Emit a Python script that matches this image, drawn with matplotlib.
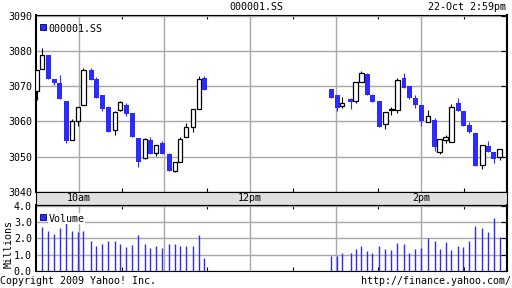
"""Intraday candlestick chart of 000001.SS with volume, Yahoo style."""

import numpy as np
import matplotlib.pyplot as plt
from matplotlib.patches import Rectangle

# x positions: minutes after 9:30
minutes = [0.8, 4.4, 8.6, 12.8, 16.6, 21.3, 25.5, 29.7, 33.3, 38.8,
           42.4, 46.5, 50.7, 55.6, 59.1, 63.3, 67.5, 71.8, 76.7, 80.2,
           84.4, 88.6, 93.5, 97.7, 101.2, 105.4, 110.1, 114.5, 118.0,
           207.1, 211.3, 214.8, 220.5, 224.0, 228.2, 232.4, 235.9, 240.8, 245.0,
           249.2, 253.4, 258.1, 261.8, 266.0, 270.2, 275.1, 279.4, 282.9, 287.1,
           291.3, 296.2, 299.7, 303.9, 308.1, 313.0, 317.2, 320.8, 325.0]

opens = [3068.5, 3075.0, 3078.8, 3072.1, 3071.0, 3065.7, 3054.8, 3060.2, 3064.7, 3074.5,
         3072.0, 3067.4, 3064.0, 3057.4, 3063.3, 3064.6, 3062.3, 3055.2, 3049.7, 3054.6,
         3050.9, 3053.7, 3050.6, 3045.9, 3048.3, 3055.4, 3058.5, 3063.6, 3072.2,
         3069.1, 3067.4, 3064.4, 3066.3, 3065.8, 3071.3, 3073.4, 3067.5, 3065.7, 3059.1,
         3063.1, 3063.3, 3072.2, 3070.0, 3066.5, 3064.6, 3059.9, 3060.3, 3051.4, 3054.6,
         3054.0, 3065.1, 3062.9, 3058.9, 3056.8, 3047.7, 3053.1, 3051.4, 3050.0]
highs = [3074.6, 3080.7, 3078.8, 3072.1, 3073.1, 3065.7, 3060.6, 3064.2, 3075.1, 3075.1,
         3072.6, 3067.4, 3064.4, 3062.9, 3065.7, 3065.3, 3062.3, 3055.2, 3055.2, 3055.5,
         3053.4, 3054.4, 3051.1, 3048.3, 3055.4, 3059.4, 3063.4, 3072.8, 3072.8,
         3069.1, 3067.4, 3067.0, 3066.7, 3071.3, 3074.2, 3073.7, 3067.8, 3065.7, 3062.6,
         3064.1, 3072.2, 3073.7, 3070.0, 3067.6, 3064.6, 3063.2, 3061.0, 3055.1, 3056.1,
         3064.8, 3066.5, 3062.9, 3059.7, 3056.8, 3053.4, 3054.4, 3051.4, 3052.0]
lows = [3066.0, 3075.0, 3072.1, 3070.3, 3066.3, 3053.9, 3054.8, 3058.7, 3064.7, 3071.8,
        3066.7, 3063.0, 3057.0, 3056.2, 3062.8, 3061.6, 3055.4, 3047.1, 3049.4, 3050.7,
        3050.2, 3050.8, 3045.8, 3045.5, 3048.3, 3055.4, 3057.1, 3063.6, 3068.9,
        3066.7, 3063.0, 3063.8, 3063.4, 3065.2, 3071.3, 3067.5, 3065.5, 3058.4, 3057.8,
        3061.9, 3062.3, 3069.5, 3066.3, 3063.8, 3058.7, 3059.9, 3051.7, 3050.6, 3053.7,
        3054.0, 3062.8, 3058.8, 3056.6, 3047.4, 3046.5, 3051.4, 3048.2, 3049.1]
closes = [3074.5, 3078.8, 3072.1, 3071.0, 3066.3, 3054.5, 3060.0, 3064.2, 3074.5, 3071.8,
          3066.7, 3063.4, 3057.0, 3062.6, 3065.5, 3062.0, 3055.4, 3048.3, 3054.9, 3050.7,
          3053.4, 3050.8, 3045.8, 3048.3, 3054.9, 3058.5, 3063.4, 3072.0, 3068.9,
          3066.7, 3063.9, 3065.3, 3065.5, 3071.3, 3073.7, 3067.5, 3065.5, 3058.4, 3062.6,
          3063.6, 3071.6, 3069.5, 3066.5, 3064.7, 3060.1, 3061.6, 3052.8, 3055.1, 3055.4,
          3064.2, 3062.8, 3058.8, 3057.1, 3047.4, 3053.4, 3051.4, 3049.2, 3052.0]

# volume in millions
volumes = [np.nan, 2.70, 2.45, 2.28, 2.63, 2.94, 2.45, 2.39, 2.45, 1.83,
           1.54, 1.65, 1.83, 1.83, 1.65, 1.46, 1.58, 2.20, 1.65, 1.40,
           1.52, 1.40, 1.65, 1.65, 1.52, 1.52, 1.52, 2.20, 0.78,
           0.90, 0.90, 1.09, 1.09, 1.34, 1.52, 1.21, 1.09, 1.52, 1.34,
           1.28, 1.71, 1.65, 1.09, 1.34, 1.40, 2.02, 1.83, 1.34, 1.77,
           1.28, 1.52, 1.46, 1.83, 2.76, 2.63, 2.39, 3.25, 2.08]

hour_ticks = [30, 90, 150, 210, 270, 330]
half_ticks = [60, 120, 180, 240, 300]
band_ticks = [30, 150, 270]
band_labels = ["10am", "12pm", "2pm"]
price_ticks = [3040, 3050, 3060, 3070, 3080, 3090]
vol_ticks = [0, 1, 2, 3, 4]

BLUE = "#2b2bff"
GRID = "#a8a8a8"
FONT = "DejaVu Sans Mono"
FS = 7.2

plt.rcParams["font.family"] = FONT
plt.rcParams["font.size"] = FS

W, H = 512, 288
fig = plt.figure(figsize=(W / 100, H / 100), dpi=100)


def box(x0, y0, x1, y1):
    """Pixel box (top-left origin) to figure fraction rect."""
    return [x0 / W, 1 - y1 / H, (x1 - x0) / W, (y1 - y0) / H]


def style(ax, yticks):
    ax.set_xlim(0, 330)
    ax.set_xticks(hour_ticks)
    ax.set_xticks(half_ticks, minor=True)
    ax.set_xticklabels([])
    ax.set_yticks(yticks)
    ax.grid(True, which="major", color=GRID, lw=1.0)
    ax.set_axisbelow(True)
    ax.tick_params(axis="x", which="major", length=0)
    ax.tick_params(axis="x", which="minor", direction="in", length=3,
                   top=True, bottom=True, width=0.8)
    ax.tick_params(axis="y", left=False, right=True, direction="in",
                   length=4, width=0.8, pad=3)
    for side in ("left", "right"):
        ax.spines[side].set_linewidth(1.5)
    for side in ("top", "bottom"):
        ax.spines[side].set_linewidth(0.8)


# price panel
ax = fig.add_axes(box(36, 15, 506.7, 191.7))
style(ax, price_ticks)
ax.set_ylim(3040, 3090.2)

t = np.array(minutes)
o = np.array(opens)
c = np.array(closes)
up = c >= o
ax.vlines(t[up], np.array(lows)[up], np.array(highs)[up], color="black", lw=0.8, zorder=2)
ax.vlines(t[~up], np.array(lows)[~up], np.array(highs)[~up], color=BLUE, lw=0.8, zorder=2)
ax.bar(t[up], (c - o)[up], bottom=o[up], width=2.9, color="white",
       edgecolor="black", lw=0.9, zorder=3)
ax.bar(t[~up], (c - o)[~up], bottom=o[~up], width=3.2, color=BLUE,
       lw=0, zorder=3)

ax.add_patch(Rectangle((40 / W, 1 - 30 / H), 6 / W, 6 / H, transform=fig.transFigure,
                       facecolor=BLUE, edgecolor="#000060", lw=0.6, zorder=5))
fig.text(48.5 / W, 1 - 28.5 / H, "000001.SS", va="center", ha="left")

# time band
band = fig.add_axes(box(36, 191.7, 506.7, 205))
band.set_facecolor("#e0e0e0")
band.set_xlim(0, 330)
band.set_ylim(0, 1)
band.set_yticks([])
band.set_xticks([])
for side in band.spines.values():
    side.set_linewidth(0.8)
for x, lab in zip(band_ticks, band_labels):
    band.text(x, 0.5, lab, ha="center", va="center")

# volume panel
axv = fig.add_axes(box(36, 205, 506.7, 270.7))
style(axv, vol_ticks)
axv.set_ylim(0, 4.06)
axv.set_yticklabels([f"{v:.1f}" for v in vol_ticks])
axv.vlines(t, 0, volumes, color=BLUE, lw=1.0, zorder=3)
axv.add_patch(Rectangle((40 / W, 1 - 220 / H), 6 / W, 6 / H, transform=fig.transFigure,
                        facecolor=BLUE, edgecolor="#000060", lw=0.6, zorder=5))
fig.text(48.5 / W, 1 - 218.5 / H, "Volume", va="center", ha="left",
         bbox=dict(facecolor="white", edgecolor="none", pad=0.5))
fig.text(8.5 / W, 1 - 244 / H, "Millions", rotation=90, va="center", ha="center")

# header and footer
fig.text(256 / W, 1 - 7.5 / H, "000001.SS", ha="center", va="center")
fig.text(505.5 / W, 1 - 7.5 / H, "22-Oct 2:59pm", ha="right", va="center")
fig.text(0.5 / W, 1 - 280.5 / H, "Copyright 2009 Yahoo! Inc.", ha="left", va="center")
fig.text(511 / W, 1 - 280.5 / H, "http://finance.yahoo.com/", ha="right", va="center")

fig.savefig("out.png", dpi=100)
